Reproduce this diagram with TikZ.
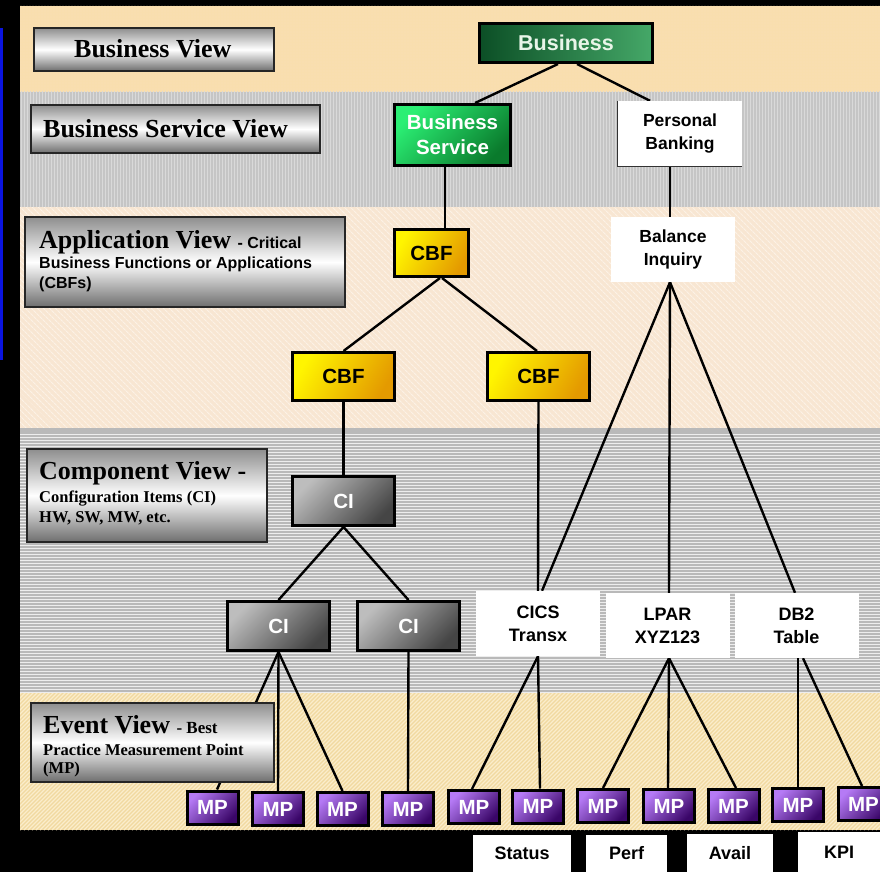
\documentclass[tikz,border=0pt]{standalone}
\usepackage{fontspec}
\setmainfont{Liberation Serif}
\newfontfamily\arialfont{Liberation Sans}
\usetikzlibrary{patterns.meta}

% palette
\definecolor{stripblue}{HTML}{0A14E0}
\definecolor{bandBiz}{HTML}{F9DEAE}
\definecolor{bandBizDot}{HTML}{FCEACB}
\definecolor{bandSvc}{HTML}{C5C5C5}
\definecolor{bandSvcLine}{HTML}{D9D9D9}
\definecolor{bandApp}{HTML}{F8E6D2}
\definecolor{bandAppLine}{HTML}{FCF2E6}
\definecolor{bandComp}{HTML}{EDEDED}
\definecolor{bandCompLine}{HTML}{B9B9B9}
\definecolor{bandEvt}{HTML}{F1D9A0}
\definecolor{bandEvtLine}{HTML}{FBEDCB}
\definecolor{viewTop}{HTML}{8E8E8E}
\definecolor{viewBot}{HTML}{6E6E6E}
\definecolor{bizL}{HTML}{0C4F26}
\definecolor{bizR}{HTML}{45A868}
\definecolor{bizText}{HTML}{E8F5E8}
\definecolor{svcA}{HTML}{2BEF74}
\definecolor{svcB}{HTML}{0A7A2C}
\definecolor{cbfA}{HTML}{FFF500}
\definecolor{cbfB}{HTML}{E49A00}
\definecolor{ciA}{HTML}{BDBDBD}
\definecolor{ciB}{HTML}{454545}
\definecolor{mpA}{HTML}{B57AF5}
\definecolor{mpB}{HTML}{3A0668}

% type styles
\newcommand\ViewHeadFont{\fontsize{26}{30}\selectfont\bfseries}
\newcommand\ViewSubSerif{\fontsize{16.5}{20}\selectfont\bfseries}
\newcommand\ViewSubSans{\arialfont\fontsize{16}{20}\selectfont\bfseries}

\pgfdeclarelayer{bands}
\pgfdeclarelayer{links}
\pgfsetlayers{bands,links,main}

\tikzset{
  viewbox/.style={draw=black!85, line width=1.6pt, inner sep=0pt,
    top color=viewTop, bottom color=viewBot, middle color=white},
  viewtext/.style={anchor=base west, inner sep=0pt},
  treebox/.style={draw=black, line width=3pt, inner sep=0pt, align=center,
    font={\arialfont\bfseries\fontsize{20.5}{25}\selectfont}},
  bizbox/.style={treebox, left color=bizL, right color=bizR, text=bizText,
    font={\arialfont\bfseries\fontsize{21.5}{25}\selectfont}},
  svcbox/.style={treebox, top color=svcA, bottom color=svcB, shading angle=45, text=white},
  cbfbox/.style={treebox, top color=cbfA, bottom color=cbfB, shading angle=60,
    minimum width=102, minimum height=48},
  cibox/.style={treebox, top color=ciA, bottom color=ciB, shading angle=45, text=white,
    minimum width=102, minimum height=49},
  mpbox/.style={treebox, top color=mpA, bottom color=mpB, shading angle=45, text=white,
    minimum width=51, minimum height=33},
  plainbox/.style={fill=white, inner sep=0pt, align=center,
    minimum width=124, minimum height=65,
    font={\arialfont\bfseries\fontsize{17.5}{23}\selectfont}},
  tagbox/.style={fill=white, inner sep=0pt,
    font={\arialfont\bfseries\fontsize{18}{22}\selectfont}},
  link/.style={line width=2.4pt, black},
}

\begin{document}
\begin{tikzpicture}[x=1pt,y=-1pt]
\useasboundingbox (0,0) rectangle (880,872);

% ---------- horizontal view bands ----------
\begin{pgfonlayer}{bands}
  \fill[black] (0,0) rectangle (880,872);
  \fill[stripblue] (0,28) rectangle (2.5,360);
  % business
  \fill[bandBiz] (20,6) rectangle (880,92);
  \fill[pattern={Dots[distance=3pt,radius=0.45pt]}, pattern color=bandBizDot] (20,6) rectangle (880,92);
  % business service
  \fill[bandSvc] (20,92) rectangle (880,207);
  \fill[pattern={Lines[angle=90,distance=3pt,line width=0.8pt]}, pattern color=bandSvcLine] (20,92) rectangle (880,207);
  % application
  \fill[bandApp] (20,207) rectangle (880,428);
  \fill[pattern={Lines[angle=-45,distance=4pt,line width=1.1pt]}, pattern color=bandAppLine] (20,207) rectangle (880,428);
  % component
  \fill[bandComp] (20,428) rectangle (880,693);
  \foreach \yy in {429,432,...,692} {
    \fill[bandCompLine] (20,\yy) rectangle (880,\yy+1.5);
  }
  \fill[bandCompLine] (20,428) rectangle (880,432);
  % event
  \fill[bandEvt] (20,693) rectangle (880,830);
  \begin{scope}
    \clip (20,693) rectangle (880,830);
    \foreach \xx in {-140,-136,...,880} {
      \draw[bandEvtLine, line width=1.3pt] (\xx,830) -- (\xx+140,690);
    }
  \end{scope}
\end{pgfonlayer}

% ---------- hierarchy nodes ----------
\node[bizbox, minimum width=173, minimum height=39] (biz) at (566,43) {Business};
\node[svcbox, minimum width=116, minimum height=61] (bsvc) at (452.5,135) {Business\\Service};
\node[plainbox] (pbank) at (680,133.5) {Personal\\Banking};
\draw[black!80, line width=0.8pt] (pbank.north west) -- (pbank.south west) -- (pbank.south east);
\node[plainbox] (binq) at (673,249.5) {Balance\\Inquiry};

\node[cbfbox, minimum width=74, minimum height=47] (cbf0) at (431.5,253) {CBF};
\node[cbfbox] (cbf1) at (343.5,376.5) {CBF};
\node[cbfbox] (cbf2) at (538.5,376.5) {CBF};

\node[cibox] (ci0) at (343.5,501) {CI};
\node[cibox] (ci1) at (278.5,626) {CI};
\node[cibox] (ci2) at (408.5,626) {CI};

\node[plainbox, font={\arialfont\bfseries\fontsize{18}{23}\selectfont}] (cics) at (538,623.5) {CICS\\Transx};
\node[plainbox, font={\arialfont\bfseries\fontsize{18}{23}\selectfont}] (lpar) at (667.5,625.5) {LPAR\\XYZ123};
\node[plainbox, font={\arialfont\bfseries\fontsize{18}{23}\selectfont}] (db2) at (796.5,625.5) {DB2\\Table};

\node[mpbox] (mp1) at (212.5,807.5) {MP};
\node[mpbox] (mp2) at (278,809) {MP};
\node[mpbox] (mp3) at (342.5,809) {MP};
\node[mpbox] (mp4) at (408,809) {MP};
\node[mpbox] (mp5) at (474,807) {MP};
\node[mpbox] (mp6) at (538,806.5) {MP};
\node[mpbox] (mp7) at (603,806) {MP};
\node[mpbox] (mp8) at (669,806) {MP};
\node[mpbox] (mp9) at (733.5,806) {MP};
\node[mpbox] (mp10) at (798,805) {MP};
\node[mpbox] (mp11) at (863.5,804) {MP};

% ---------- metric tags ----------
\node[tagbox, minimum width=98, minimum height=37] (tStatus) at (522,853.5) {Status};
\node[tagbox, minimum width=81, minimum height=37] (tPerf) at (626.5,853.5) {Perf};
\node[tagbox, minimum width=86, minimum height=38] (tAvail) at (730,853) {Avail};
\node[tagbox, minimum width=82, minimum height=40] (tKPI) at (839,852) {KPI};

% ---------- connectors ----------
\begin{pgfonlayer}{links}
  \draw[link] ([xshift=-8pt]biz.south) -- ([xshift=22.5pt]bsvc.north);
  \draw[link] ([xshift=11pt]biz.south) -- ([xshift=-30pt]pbank.north);
  \draw[link] ([xshift=-7.5pt]bsvc.south) -- ([xshift=13.5pt]cbf0.north);
  \draw[link] ([xshift=-10pt]pbank.south) -- ([xshift=-3pt]binq.north);
  \draw[link] ([xshift=8.5pt]cbf0.south) -- (cbf1.north);
  \draw[link] ([xshift=10.5pt]cbf0.south) -- ([xshift=-1.5pt]cbf2.north);
  \draw[link] (cbf1.south) -- (ci0.north);
  \draw[link] (cbf2.south) -- (cics.north);
  \draw[link] ([xshift=-3pt]binq.south) -- ([xshift=4pt]cics.north);
  \draw[link] ([xshift=-3pt]binq.south) -- ([xshift=1.5pt]lpar.north);
  \draw[link] ([xshift=-3pt]binq.south) -- ([xshift=-1.5pt]db2.north);
  \draw[link] (ci0.south) -- (ci1.north);
  \draw[link] (ci0.south) -- (ci2.north);
  \draw[link] (ci1.south) -- ([xshift=4.5pt]mp1.north);
  \draw[link] (ci1.south) -- (mp2.north);
  \draw[link] (ci1.south) -- (mp3.north);
  \draw[link] (ci2.south) -- (mp4.north);
  \draw[link] (cics.south) -- ([xshift=-2pt]mp5.north);
  \draw[link] (cics.south) -- ([xshift=2pt]mp6.north);
  \draw[link] ([xshift=1.5pt]lpar.south) -- (mp7.north);
  \draw[link] ([xshift=1.5pt]lpar.south) -- ([xshift=-1pt]mp8.north);
  \draw[link] ([xshift=1.5pt]lpar.south) -- ([xshift=2.5pt]mp9.north);
  \draw[link] ([xshift=1.5pt]db2.south) -- (mp10.north);
  \draw[link] ([xshift=6.5pt]db2.south) -- ([xshift=-1.5pt]mp11.north);
\end{pgfonlayer}

% ---------- view labels ----------
\node[viewbox, minimum width=240, minimum height=43] (vBiz) at (154,49.5) {};
\node[viewtext] (tBiz) at (74,58) {\ViewHeadFont Business View};

\node[viewbox, minimum width=289, minimum height=48] (vSvc) at (175.5,129) {};
\node[viewtext] (tSvc) at (43,137) {\ViewHeadFont Business Service View};

\node[viewbox, minimum width=320, minimum height=90] (vApp) at (185,262) {};
\node[viewtext] (tApp1) at (39,248) {\ViewHeadFont Application View \ViewSubSans - Critical};
\node[viewtext] (tApp2) at (39,268) {\ViewSubSans Business Functions or Applications};
\node[viewtext] (tApp3) at (39,288) {\ViewSubSans (CBFs)};

\node[viewbox, minimum width=240, minimum height=93] (vComp) at (147,495.5) {};
\node[viewtext] (tComp1) at (39,479) {\ViewHeadFont Component View -};
\node[viewtext] (tComp2) at (39,502) {\ViewSubSerif Configuration Items (CI)};
\node[viewtext] (tComp3) at (39,522) {\ViewSubSerif HW, SW, MW, etc.};

\node[viewbox, minimum width=243, minimum height=79] (vEvt) at (152.5,742.5) {};
\node[viewtext] (tEvt1) at (43,733) {\ViewHeadFont Event View \fontsize{17}{20}\selectfont - Best};
\node[viewtext] (tEvt2) at (43,755) {\ViewSubSerif Practice Measurement Point};
\node[viewtext] (tEvt3) at (43,773) {\ViewSubSerif (MP)};
\end{tikzpicture}
\end{document}
